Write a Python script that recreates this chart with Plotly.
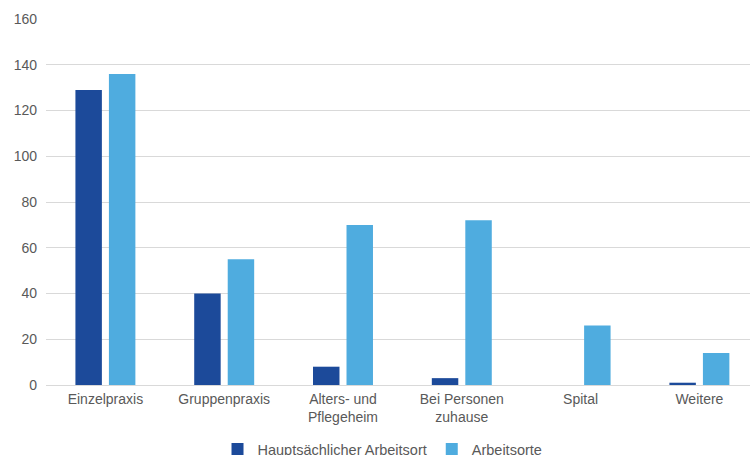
import plotly.graph_objects as go

categories = ["Einzelpraxis", "Gruppenpraxis", "Alters- und<br>Pflegeheim", "Bei Personen<br>zuhause", "Spital", "Weitere"]
haupt = [129, 40, 8, 3, 0, 1]
orte = [136, 55, 70, 72, 26, 14]
y_ticks = [0, 20, 40, 60, 80, 100, 120, 140, 160]

fig = go.Figure()
fig.add_trace(go.Bar(x=categories, y=haupt, name="Hauptsächlicher Arbeitsort",
                     marker=dict(color="#1C4A9A", line=dict(width=0))))
fig.add_trace(go.Bar(x=categories, y=orte, name="Arbeitsorte",
                     marker=dict(color="#4FACDF", line=dict(width=0))))

fig.update_layout(
    width=750, height=455,
    margin=dict(l=46, r=0, t=19, b=70, autoexpand=False),
    paper_bgcolor="white", plot_bgcolor="white",
    barmode="group", bargap=0.436, bargroupgap=0.21,
    font=dict(family="Liberation Sans, Arial, sans-serif", color="#595959", size=13),
    xaxis=dict(range=[-0.5, 5.426], showgrid=False, showline=False, ticks="",
               tickfont=dict(size=14), ticklabelstandoff=4, automargin=False),
    yaxis=dict(range=[0, 160], tickvals=y_ticks, showgrid=True, gridcolor="#D9D9D9",
               gridwidth=1, zeroline=True, zerolinecolor="#D9D9D9", zerolinewidth=1,
               showline=False, ticks="", tickfont=dict(size=14), ticklabelstandoff=8,
               automargin=False),
    legend=dict(orientation="h", x=0.478, xanchor="center",
                y=-0.175, yanchor="middle", font=dict(size=14.5), itemwidth=30,
                traceorder="normal", tracegroupgap=0),
    showlegend=True,
)

fig.write_html("out.html", config={"displayModeBar": False},
               post_script="document.body.style.margin='0';document.body.style.overflow='hidden';")
